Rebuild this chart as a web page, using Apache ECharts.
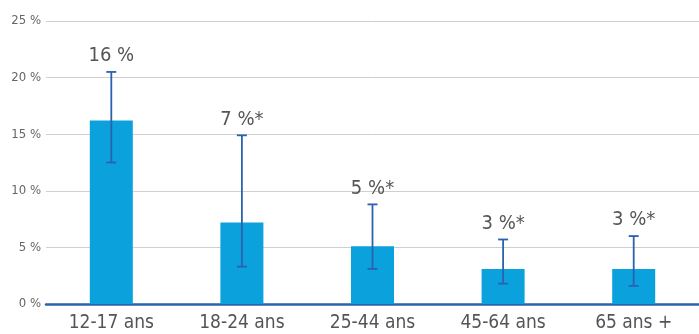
<!DOCTYPE html>
<html lang="fr">
<head>
	<meta charset="UTF-8">
	<title>Prévalence par âge</title>
	<style>
		html, body { margin: 0; padding: 0; background: #fff; }
		#main { width: 699px; height: 334px; }
	</style>
</head>
<body>
	<div id="main"></div>
<script type="text/javascript" src="https://cdn.jsdelivr.net/npm/echarts@6/dist/echarts.min.js"></script>
<script type="text/javascript">
	// données
	var categories = ['12-17 ans', '18-24 ans', '25-44 ans', '45-64 ans', '65 ans +'];
	var values = [16.2, 7.2, 5.1, 3.1, 3.1];
	var errLow = [12.5, 3.3, 3.1, 1.8, 1.6];
	var errHigh = [20.5, 14.9, 8.8, 5.7, 6.0];
	var valueLabels = ['16 %', '7 %*', '5 %*', '3 %*', '3 %*'];

	var font = '"Liberation Sans Narrow", "DejaVu Sans Condensed", sans-serif';

	var errData = [];
	for (var i = 0; i < categories.length; i++) {
		errData.push([i, errLow[i], errHigh[i]]);
	}

	var myChart = echarts.init(document.getElementById('main'));
	var option = {
		animation: false,
		grid: { left: 46, right: 0, top: 21, bottom: 30 },
		xAxis: {
			type: 'category',
			data: categories,
			axisLine: { lineStyle: { color: '#2b62b0', width: 2.5 } },
			axisTick: { show: false },
			axisLabel: { color: '#555', fontSize: 19, fontFamily: font, margin: 10 }
		},
		yAxis: {
			type: 'value',
			min: 0,
			max: 25,
			interval: 5,
			axisLine: { show: false },
			axisTick: { show: false },
			splitLine: { lineStyle: { color: '#cfcfcf', width: 1 } },
			axisLabel: {
				color: '#666', fontSize: 13, fontFamily: font, margin: 5,
				formatter: function (v) { return v + ' %'; }
			}
		},
		series: [{
			type: 'bar',
			data: values,
			barWidth: 43,
			itemStyle: { color: '#0aa1dd' },
			z: 2
		}, {
			// barres d'erreur + étiquettes
			type: 'custom',
			data: errData,
			z: 3,
			renderItem: function (params, api) {
				var idx = api.value(0);
				var lo = api.coord([idx, api.value(1)]);
				var hi = api.coord([idx, api.value(2)]);
				var cap = 5;
				var style = { stroke: '#2b62b0', lineWidth: 1.8 };
				return {
					type: 'group',
					children: [
						{ type: 'line', shape: { x1: hi[0], y1: hi[1], x2: lo[0], y2: lo[1] }, style: style },
						{ type: 'line', shape: { x1: hi[0] - cap, y1: hi[1], x2: hi[0] + cap, y2: hi[1] }, style: style },
						{ type: 'line', shape: { x1: lo[0] - cap, y1: lo[1], x2: lo[0] + cap, y2: lo[1] }, style: style },
						{
							type: 'text',
							x: hi[0],
							y: hi[1] - 6,
							style: {
								text: valueLabels[params.dataIndex],
								fill: '#555',
								font: '20px ' + font,
								textAlign: 'center',
								textVerticalAlign: 'bottom'
							}
						}
					]
				};
			}
		}]
	};
	myChart.setOption(option);
</script>
</body>
</html>
